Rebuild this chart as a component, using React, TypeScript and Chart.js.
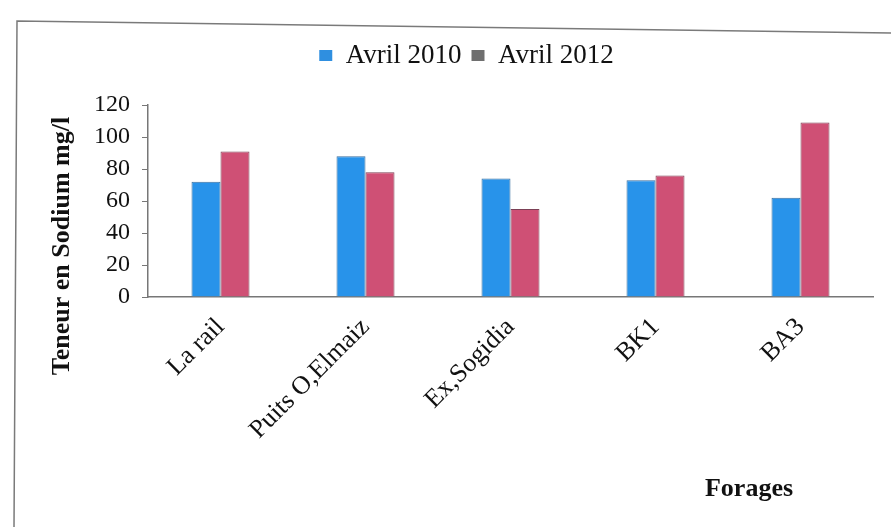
import React, { useEffect, useRef } from "react";
import { Chart, registerables } from "chart.js";

Chart.register(...registerables);

// Sodium content per borehole (mg/l)
const forages = ["La rail", "Puits O,Elmaiz", "Ex,Sogidia", "BK1", "BA3"];
const avril2010 = [72, 88, 74, 73, 62];
const avril2012 = [91, 78, 55, 76, 109];
const yTicks = [0, 20, 40, 60, 80, 100, 120];

const SERIF = "'Liberation Serif', 'Times New Roman', serif";

const frameAndTitles = {
  id: "frameAndTitles",
  beforeInit(chart: any) {
    // leave a gap between the legend row and the plot
    const lg = chart.legend;
    if (lg) {
      const fit = lg.fit.bind(lg);
      lg.fit = () => {
        fit();
        lg.height += 26;
      };
    }
  },
  beforeDraw(chart: any) {
    const ctx = chart.ctx;
    ctx.save();
    ctx.fillStyle = "#ffffff";
    ctx.fillRect(0, 0, chart.width, chart.height);
    ctx.strokeStyle = "#7a7a7a";
    ctx.lineWidth = 1.5;
    ctx.beginPath();
    ctx.moveTo(14, 527);
    ctx.lineTo(17, 21);
    ctx.lineTo(891, 33);
    ctx.stroke();
    ctx.restore();
  },
  afterDraw(chart: any) {
    const ctx = chart.ctx;
    ctx.save();
    ctx.fillStyle = "#111";
    ctx.font = `bold 26px ${SERIF}`;
    ctx.textAlign = "center";
    ctx.textBaseline = "middle";
    ctx.translate(62, 246);
    ctx.rotate(-Math.PI / 2);
    ctx.fillText("Teneur en Sodium mg/l", 0, 0);
    ctx.restore();

    ctx.save();
    ctx.fillStyle = "#111";
    ctx.font = `bold 26px ${SERIF}`;
    ctx.textAlign = "center";
    ctx.textBaseline = "middle";
    ctx.fillText("Forages", 749, 489);
    ctx.restore();
  },
};

export default function App() {
  const ref = useRef<HTMLCanvasElement | null>(null);

  useEffect(() => {
    if (!ref.current) return;
    const chart = new Chart(ref.current, {
      type: "bar",
      data: {
        labels: forages,
        datasets: [
          {
            label: "Avril 2010",
            data: avril2010,
            backgroundColor: "#2893ea",
            borderColor: "#3b6f9e",
            borderWidth: 1,
          },
          {
            label: "Avril 2012",
            data: avril2012,
            backgroundColor: "#cf5075",
            borderColor: "#7c4056",
            borderWidth: 1,
          },
        ],
      },
      options: {
        responsive: true,
        maintainAspectRatio: false,
        animation: false,
        layout: { padding: { top: 32, right: 18, bottom: 0, left: 60 } },
        datasets: {
          bar: { categoryPercentage: 0.4, barPercentage: 1.0 },
        },
        plugins: {
          title: { display: false },
          tooltip: { enabled: false },
          legend: {
            display: true,
            position: "top",
            labels: {
              boxWidth: 13,
              boxHeight: 11,
              padding: 10,
              color: "#111",
              font: { family: SERIF, size: 27 },
              generateLabels: (c: any) => {
                const colors = ["#2f8fe0", "#6f6f6f"];
                return c.data.datasets.map((d: any, i: number) => ({
                  text: d.label,
                  fillStyle: colors[i],
                  strokeStyle: colors[i],
                  lineWidth: 0,
                  datasetIndex: i,
                  hidden: false,
                  fontColor: "#111",
                }));
              },
            },
          },
        },
        scales: {
          x: {
            grid: {
              display: true,
              drawOnChartArea: false,
              drawTicks: false,
            },
            border: { display: true, color: "#777", width: 1.5 },
            ticks: {
              minRotation: 45,
              maxRotation: 45,
              padding: 15,
              color: "#111",
              font: { family: SERIF, size: 26 },
            },
            afterFit: (s: any) => {
              s.height = 231;
            },
          },
          y: {
            min: 0,
            max: 120,
            afterBuildTicks: (s: any) => {
              s.ticks = yTicks.map((v) => ({ value: v }));
            },
            grid: {
              display: true,
              drawOnChartArea: false,
              tickLength: 6,
              color: "#777",
            },
            border: { display: true, color: "#777", width: 1.5 },
            ticks: {
              padding: 12,
              color: "#111",
              font: { family: SERIF, size: 24 },
            },
            afterFit: (s: any) => {
              s.width = 88;
            },
          },
        },
      },
      plugins: [frameAndTitles],
    });
    return () => chart.destroy();
  }, []);

  return (
    <div style={{ position: "absolute", left: 0, top: 0, width: 891, height: 528 }}>
      <canvas ref={ref} />
    </div>
  );
}
